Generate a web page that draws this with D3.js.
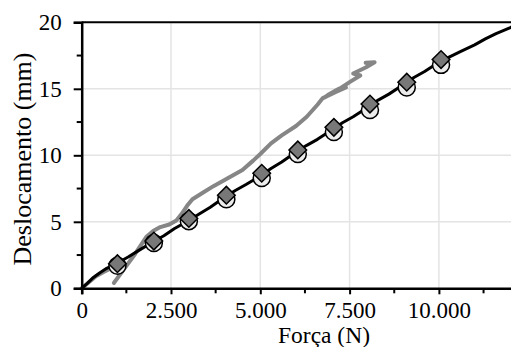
<!DOCTYPE html>
<html>
<head>
<meta charset="utf-8">
<script src="https://cdn.jsdelivr.net/npm/d3@7"></script>
<style>
  html, body { margin: 0; padding: 0; background: #fff; }
  svg { display: block; }
</style>
</head>
<body>
<div id="chart"></div>
<script>
// black curve
const forceBlack = [0, 150, 300, 500, 700, 1000, 1300, 1600, 2000, 2300, 2600, 3000, 3300, 3600, 4000, 4300, 4600, 5000, 5300, 5600, 6000, 6300, 6600, 7000, 7300, 7600, 8000, 8300, 8600, 9000, 9300, 9600, 10000, 10300, 10600, 11000, 11300, 11600, 12000, 12500];
const dispBlack = [0, 0.35, 0.75, 1.15, 1.5, 1.9, 2.35, 2.85, 3.5, 3.95, 4.5, 5.1, 5.6, 6.1, 6.85, 7.35, 7.8, 8.45, 9.0, 9.5, 10.25, 10.75, 11.2, 11.9, 12.45, 12.9, 13.6, 14.15, 14.6, 15.3, 15.85, 16.3, 17.0, 17.4, 17.8, 18.3, 18.75, 19.15, 19.6, 20.3];

// gray curve, first short piece near origin
const forceGrayA = [0, 200, 400, 600, 780];
const dispGrayA = [0, 0.45, 0.9, 1.2, 1.45];

// gray curve, main piece
const forceGrayB = [900, 1200, 1500, 1820, 2000, 2200, 2450, 2650, 2800, 2950, 3100, 3400, 3700, 4100, 4500, 4800, 5000, 5300, 5600, 6000, 6300, 6600, 6750, 7100, 7400, 7200, 6900, 6800, 7050, 7500, 7800, 7600, 7950, 8200, 7950];
const dispGrayB = [0.4, 1.5, 2.6, 3.9, 4.3, 4.6, 4.8, 5.1, 5.6, 6.2, 6.7, 7.2, 7.7, 8.3, 8.9, 9.6, 10.1, 10.9, 11.5, 12.2, 12.9, 13.8, 14.3, 14.75, 15.1, 15.0, 14.55, 14.35, 14.7, 15.5, 16.0, 16.15, 16.6, 17.0, 16.95];

// markers
const markerForce = [1000, 2020, 3000, 4050, 5040, 6050, 7060, 8070, 9100, 10060];
const circleDisp = [1.7, 3.4, 5.05, 6.7, 8.3, 10.1, 11.75, 13.4, 15.1, 16.8];
const diamondDisp = [1.85, 3.55, 5.25, 7.0, 8.65, 10.4, 12.1, 13.85, 15.5, 17.2];

const xTicks = [0, 2500, 5000, 7500, 10000, 12500];
const xTickLabels = ['0', '2.500', '5.000', '7.500', '10.000', ''];
const yTicks = [0, 5, 10, 15, 20];

const width = 511, height = 347;
const margin = { left: 81.7, top: 22.3, bottom: 58.7 };
const serif = '"Liberation Serif", "Times New Roman", serif';

const x = d3.scaleLinear().domain([0, 12500]).range([margin.left, margin.left + 5 * 89.3]);
const y = d3.scaleLinear().domain([0, 20]).range([height - margin.bottom, margin.top]);

const svg = d3.select('#chart').append('svg')
  .attr('width', width)
  .attr('height', height)
  .style('font-family', serif);

// grid
svg.append('g').selectAll('line')
  .data(xTicks.filter(d => d > 0))
  .enter().append('line')
  .attr('x1', d => x(d)).attr('x2', d => x(d))
  .attr('y1', y(0)).attr('y2', y(20))
  .attr('stroke', '#e4e4e4').attr('stroke-width', 1.5);

svg.append('g').selectAll('line')
  .data(yTicks.filter(d => d > 0 && d < 20))
  .enter().append('line')
  .attr('x1', x(0)).attr('x2', x(12500))
  .attr('y1', d => y(d)).attr('y2', d => y(d))
  .attr('stroke', '#e4e4e4').attr('stroke-width', 1.5);

// top border
svg.append('line')
  .attr('x1', x(0)).attr('x2', x(12500))
  .attr('y1', y(20)).attr('y2', y(20))
  .attr('stroke', '#000').attr('stroke-width', 2);

const line = d3.line().x(d => x(d[0])).y(d => y(d[1]));

svg.append('path')
  .datum(forceGrayA.map((f, i) => [f, dispGrayA[i]]))
  .attr('d', line)
  .attr('fill', 'none').attr('stroke', '#868686').attr('stroke-width', 4)
  .attr('stroke-linejoin', 'round').attr('stroke-linecap', 'round');

svg.append('path')
  .datum(forceGrayB.map((f, i) => [f, dispGrayB[i]]))
  .attr('d', line)
  .attr('fill', 'none').attr('stroke', '#868686').attr('stroke-width', 4)
  .attr('stroke-linejoin', 'round').attr('stroke-linecap', 'round');

svg.append('path')
  .datum(forceBlack.map((f, i) => [f, dispBlack[i]]))
  .attr('d', line)
  .attr('fill', 'none').attr('stroke', '#000').attr('stroke-width', 3)
  .attr('stroke-linejoin', 'round');

// circles
svg.append('g').selectAll('circle')
  .data(markerForce.map((f, i) => [f, circleDisp[i]]))
  .enter().append('circle')
  .attr('cx', d => x(d[0])).attr('cy', d => y(d[1]))
  .attr('r', 8.5)
  .attr('fill', '#ececec').attr('stroke', '#000').attr('stroke-width', 1.5);

// diamonds
const diamond = d3.symbol().type(d3.symbolSquare).size(155);
svg.append('g').selectAll('path')
  .data(markerForce.map((f, i) => [f, diamondDisp[i]]))
  .enter().append('path')
  .attr('d', diamond)
  .attr('transform', d => `translate(${x(d[0])},${y(d[1])}) rotate(45)`)
  .attr('fill', '#787878').attr('stroke', '#000').attr('stroke-width', 1.5);

// axes
const xAxis = svg.append('g')
  .attr('transform', `translate(0,${y(0)})`)
  .call(d3.axisBottom(x).tickValues(xTicks).tickSize(6).tickFormat((d, i) => xTickLabels[i]));
xAxis.append('g').selectAll('line')
  .data(xTicks.slice(0, -1).map(d => d + 1250))
  .enter().append('line')
  .attr('x1', d => x(d)).attr('x2', d => x(d))
  .attr('y1', 0).attr('y2', 5)
  .attr('stroke', '#000').attr('stroke-width', 2);

const yAxis = svg.append('g')
  .attr('transform', `translate(${x(0)},0)`)
  .call(d3.axisLeft(y).tickValues(yTicks).tickSize(8));
yAxis.append('g').selectAll('line')
  .data([2.5, 7.5, 12.5, 17.5])
  .enter().append('line')
  .attr('x1', -5).attr('x2', 0)
  .attr('y1', d => y(d)).attr('y2', d => y(d))
  .attr('stroke', '#000').attr('stroke-width', 2);

svg.selectAll('.domain').attr('stroke', '#000').attr('stroke-width', 2.5);
svg.selectAll('.tick line').attr('stroke', '#000').attr('stroke-width', 2);
svg.selectAll('.tick text')
  .attr('font-size', 23).attr('fill', '#000')
  .style('font-family', serif);
xAxis.selectAll('.tick text').attr('y', 13).attr('dy', '0.71em');
yAxis.selectAll('.tick text').attr('x', -20);

// axis titles
svg.append('text')
  .attr('x', 324).attr('y', 343)
  .attr('text-anchor', 'middle')
  .attr('font-size', 23.5)
  .text('Força (N)');

svg.append('text')
  .attr('transform', 'translate(31,159) rotate(-90)')
  .attr('text-anchor', 'middle')
  .attr('font-size', 26)
  .text('Deslocamento (mm)');
</script>
</body>
</html>
